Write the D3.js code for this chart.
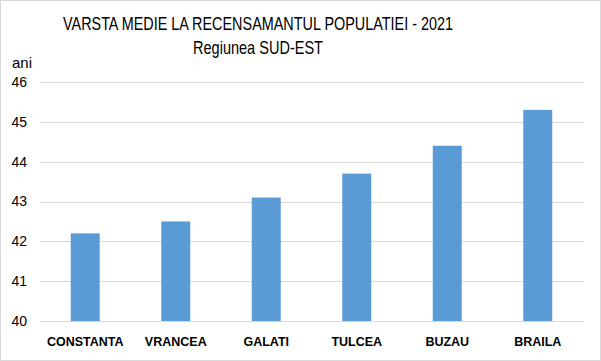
<!DOCTYPE html>
<html>
<head>
<meta charset="utf-8">
<script src="https://cdn.jsdelivr.net/npm/d3@7"></script>
<style>
  body { margin: 0; background: #fff; }
  text { font-family: "Liberation Sans", Arial, sans-serif; fill: #000; }
</style>
</head>
<body>
<div id="chart"></div>
<script>
var categories = ["CONSTANTA", "VRANCEA", "GALATI", "TULCEA", "BUZAU", "BRAILA"];
var values = [42.2, 42.5, 43.1, 43.7, 44.4, 45.3];
var yTicks = [40, 41, 42, 43, 44, 45, 46];

var width = 601
  , height = 361
  , margin = { top: 82, right: 18, bottom: 40, left: 40 }
  ;

var svg = d3.select('#chart')
  .append('svg')
    .attr('width', width)
    .attr('height', height);

// outer frame
svg.append('rect')
  .attr('x', 0.5).attr('y', 0.5)
  .attr('width', width - 1).attr('height', height - 1)
  .attr('fill', '#fff')
  .attr('stroke', '#d9d9d9');

var x = d3.scaleBand()
    .domain(categories)
    .range([margin.left, width - margin.right])
    .paddingInner(0.68)
    .paddingOuter(0.34)
  , y = d3.scaleLinear()
    .domain([40, 46])
    .range([height - margin.bottom, margin.top])
  ;

// grid
svg.append('g')
  .selectAll('line')
  .data(yTicks)
  .enter()
  .append('line')
    .attr('x1', margin.left)
    .attr('x2', width - margin.right)
    .attr('y1', d => Math.round(y(d)) + 0.5)
    .attr('y2', d => Math.round(y(d)) + 0.5)
    .attr('stroke', '#d9d9d9')
    .attr('stroke-width', 1);

// y axis labels
var yAxis = d3.axisLeft(y)
  .tickValues(yTicks)
  .tickFormat(d3.format('d'))
  .tickSize(0)
  .tickPadding(13);
svg.append('g')
  .attr('transform', `translate(${margin.left},0)`)
  .call(yAxis)
  .call(g => g.select('.domain').remove())
  .call(g => g.selectAll('text')
    .attr('font-family', '"Liberation Sans", Arial, sans-serif')
    .attr('font-size', 14)
    .attr('fill', '#000'));

// bars
svg.append('g')
  .selectAll('rect')
  .data(values)
  .enter()
  .append('rect')
    .attr('x', (d, i) => x(categories[i]))
    .attr('y', d => y(d))
    .attr('width', x.bandwidth())
    .attr('height', d => y(40) - y(d))
    .attr('fill', '#5b9bd5');

// x axis labels
var xAxis = d3.axisBottom(x).tickSize(0).tickPadding(16);
svg.append('g')
  .attr('transform', `translate(0,${height - margin.bottom})`)
  .call(xAxis)
  .call(g => g.select('.domain').remove())
  .call(g => g.selectAll('text')
    .attr('font-family', '"Liberation Sans", Arial, sans-serif')
    .attr('font-size', 12.5)
    .attr('font-weight', 'bold')
    .attr('fill', '#000'));

// titles
svg.append('text')
  .attr('x', 258).attr('y', 30)
  .attr('text-anchor', 'middle')
  .attr('font-size', 19)
  .attr('textLength', 390)
  .attr('lengthAdjust', 'spacingAndGlyphs')
  .text('VARSTA MEDIE LA RECENSAMANTUL POPULATIEI - 2021');

svg.append('text')
  .attr('x', 258).attr('y', 54)
  .attr('text-anchor', 'middle')
  .attr('font-size', 19)
  .attr('textLength', 130)
  .attr('lengthAdjust', 'spacingAndGlyphs')
  .text('Regiunea SUD-EST');

svg.append('text')
  .attr('x', 12).attr('y', 68)
  .attr('font-size', 15)
  .text('ani');
</script>
</body>
</html>
